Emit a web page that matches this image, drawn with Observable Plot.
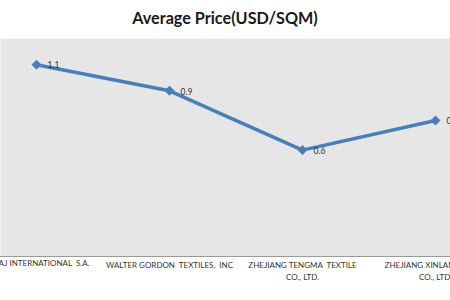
<!DOCTYPE html>
<html>
<head>
<meta charset="utf-8">
<script src="https://cdn.jsdelivr.net/npm/d3@7"></script>
<script src="https://cdn.jsdelivr.net/npm/@observablehq/plot@0.6"></script>
<style>
  html, body { margin: 0; padding: 0; background: #ffffff; overflow: hidden; }
  #title { height: 38px; line-height: 35px; text-align: center; font-family: Lato, "Open Sans", sans-serif; font-weight: bold; font-size: 16.2px; color: #1a1a1a; }
  svg { display: block; }
</style>
</head>
<body>
<div id="title">Average Price(USD/SQM)</div>
<div id="chart"></div>
<script>
const companies = [
  "AJ INTERNATIONAL  S.A.",
  "WALTER GORDON  TEXTILES,  INC",
  "ZHEJIANG TENGMA  TEXTILE\nCO., LTD.",
  "ZHEJIANG XINLAN TEXTILE\nCO., LTD."
];
const prices = [1.1, 0.95, 0.61, 0.78];
const priceLabels = ["1.1", "0.9", "0.6", "0.8"];

const data = companies.map((c, i) => ({company: c, price: prices[i], label: priceLabels[i]}));
const blue = "#4a7ebb";

const chart = Plot.plot({
  width: 450,
  height: 262,
  marginTop: 0,
  marginBottom: 44,
  marginLeft: 0,
  marginRight: 0,
  style: {fontFamily: "Lato, 'Open Sans', sans-serif", background: "transparent"},
  x: {type: "point", domain: companies, range: [35, 436], padding: 0, axis: null},
  y: {domain: [0, 1.25], axis: null},
  marks: [
    Plot.frame({fill: "#e6e6e6", stroke: "none"}),
    Plot.ruleY([0], {stroke: "#9a9a9a", strokeWidth: 1.2}),
    Plot.line(data, {x: "company", y: "price", stroke: blue, strokeWidth: 3.5}),
    Plot.dot(data, {x: "company", y: "price", symbol: "diamond2", r: 4.5, fill: blue, stroke: "none"}),
    Plot.text(data, {x: "company", y: "price", text: "label", textAnchor: "start", dx: 11, dy: 1, fontSize: 8.5, fill: "#333"}),
    Plot.text(data.slice(0, 1), {x: "company", text: "company", frameAnchor: "bottom", lineAnchor: "top", textAnchor: "end", dx: 53, dy: 4, fontSize: 8, fill: "#333"}),
    Plot.text(data.slice(1), {x: "company", text: "company", frameAnchor: "bottom", lineAnchor: "top", textAnchor: "middle", dy: 4, fontSize: 8, lineHeight: 1.4, fill: "#333"})
  ]
});
document.getElementById("chart").appendChild(chart);
</script>
</body>
</html>
